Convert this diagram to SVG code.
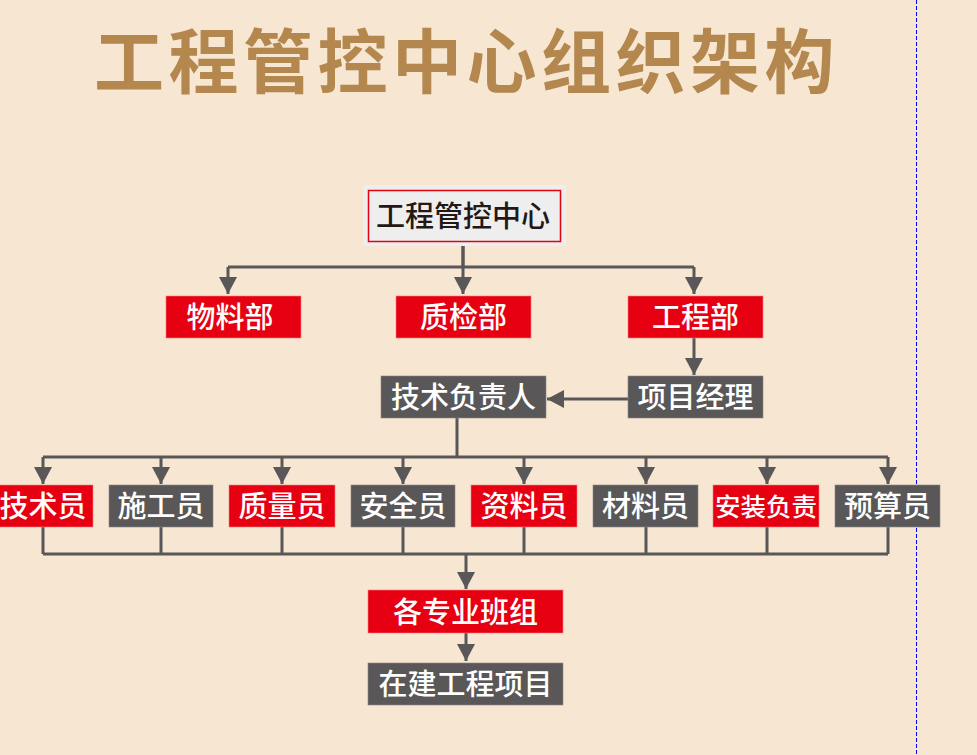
<svg xmlns="http://www.w3.org/2000/svg" width="977" height="755" viewBox="0 0 977 755">
<defs>
<marker id="arr" markerUnits="userSpaceOnUse" markerWidth="18" markerHeight="18" refX="17" refY="9" orient="auto" viewBox="0 0 18 18">
<path d="M0,0 L17,9 L0,18 z" fill="#595757"/>
</marker>
<style>
.red{fill:#E60012;stroke:#F08080;stroke-width:0.6}
.grey{fill:#595757;stroke:#8a8888;stroke-width:0.6}
.t{font-family:"Noto Sans CJK SC","Noto Sans",sans-serif;font-size:29px;font-weight:500;fill:#ffffff;text-anchor:middle}
.s{font-size:25.5px}
.ln{fill:none;stroke:#595757;stroke-width:3}
.ar{fill:none;stroke:#595757;stroke-width:3;marker-end:url(#arr)}
</style>
</defs>
<rect x="0" y="0" width="977" height="755" fill="#F6E6D2"/>
<line x1="916.5" y1="0" x2="916.5" y2="755" stroke="#0000FF" stroke-width="1" stroke-dasharray="4 2"/>
<text x="94" y="88" font-family="'Noto Sans CJK SC','Noto Sans',sans-serif" font-size="70" font-weight="bold" letter-spacing="4.5" fill="#B3874D">工程管控中心组织架构</text>

<g id="connectors">
<path class="ln" d="M463,246 V267 M228,267 H694"/>
<path class="ar" d="M228,267 V294"/>
<path class="ar" d="M463,246 V294"/>
<path class="ar" d="M694,267 V294"/>
<path class="ar" d="M694,338 V375"/>
<path class="ar" d="M628,399 H547"/>
<path class="ln" d="M457,418 V457 M43,457 H888"/>
<path class="ar" d="M43,457 V484"/>
<path class="ar" d="M161,457 V484"/>
<path class="ar" d="M282,457 V484"/>
<path class="ar" d="M403,457 V484"/>
<path class="ar" d="M524,457 V484"/>
<path class="ar" d="M646,457 V484"/>
<path class="ar" d="M767,457 V484"/>
<path class="ar" d="M888,457 V484"/>
<path class="ln" d="M43,527 V554 M161,527 V554 M282,527 V554 M403,527 V554 M524,527 V554 M646,527 V554 M767,527 V554 M888,527 V554 M43,554 H888"/>
<path class="ar" d="M466,554 V589"/>
<path class="ar" d="M466,633 V661"/>
</g>

<g id="center">
<rect x="363" y="185" width="203" height="61" fill="#EEEEEE"/>
<rect x="368.5" y="190.5" width="192" height="51" fill="none" stroke="#E60012" stroke-width="1.5"/>
<text x="463" y="227" font-family="'Noto Sans CJK SC','Noto Sans',sans-serif" font-size="29" font-weight="500" fill="#231815" text-anchor="middle">工程管控中心</text>
</g>

<g id="wuliaobu"><rect class="red" x="166" y="296" width="135" height="42"/><text class="t" x="230" y="328">物料部</text></g>
<g id="zhijianbu"><rect class="red" x="396" y="296" width="135" height="42"/><text class="t" x="463.5" y="328">质检部</text></g>
<g id="gongchengbu"><rect class="red" x="628" y="296" width="135" height="42"/><text class="t" x="695.5" y="328">工程部</text></g>
<g id="xiangmujingli"><rect class="grey" x="628" y="376" width="135" height="42"/><text class="t" x="695.5" y="408">项目经理</text></g>
<g id="jishufuzeren"><rect class="grey" x="381" y="376" width="165" height="42"/><text class="t" x="463.5" y="408">技术负责人</text></g>

<g id="jishuyuan"><rect class="red" x="-13" y="485" width="106" height="42"/><text class="t" x="43" y="517">技术员</text></g>
<g id="shigongyuan"><rect class="grey" x="109" y="485" width="104" height="42"/><text class="t" x="161" y="517">施工员</text></g>
<g id="zhiliangyuan"><rect class="red" x="229" y="485" width="106" height="42"/><text class="t" x="282" y="517">质量员</text></g>
<g id="anquanyuan"><rect class="grey" x="351" y="485" width="104" height="42"/><text class="t" x="403" y="517">安全员</text></g>
<g id="ziliaoyuan"><rect class="red" x="471" y="485" width="106" height="42"/><text class="t" x="524" y="517">资料员</text></g>
<g id="cailiaoyuan"><rect class="grey" x="593" y="485" width="105" height="42"/><text class="t" x="645.5" y="517">材料员</text></g>
<g id="anzhuangfuze"><rect class="red" x="713" y="485" width="106" height="42"/><text class="t s" x="766" y="516">安装负责</text></g>
<g id="yusuanyuan"><rect class="grey" x="835" y="485" width="105" height="42"/><text class="t" x="887.5" y="517">预算员</text></g>

<g id="banzu"><rect class="red" x="368" y="590" width="195" height="43"/><text class="t" x="465.5" y="622.5">各专业班组</text></g>
<g id="zaijian"><rect class="grey" x="368" y="663" width="195" height="42"/><text class="t" x="465.5" y="695">在建工程项目</text></g>
</svg>
